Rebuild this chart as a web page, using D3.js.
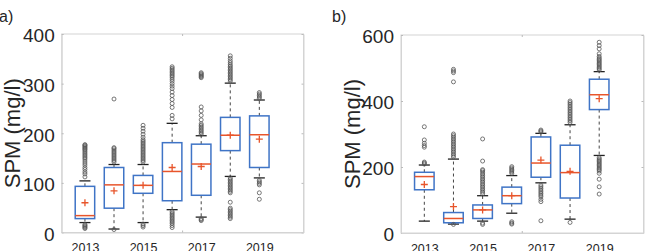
<!DOCTYPE html>
<html>
<head>
<meta charset="utf-8">
<script src="https://cdn.jsdelivr.net/npm/d3@7"></script>
<style>
  body { margin: 0; background: #fff; }
  svg text { font-family: "Liberation Sans", Arial, sans-serif; fill: #262626; }
</style>
</head>
<body>
<div id="chart"></div>
<script>
// years on the x axis (box positions 1..7)
var years = [2013, 2014, 2015, 2016, 2017, 2018, 2019];
var yearLabels = [2013, 2015, 2017, 2019];

// panel a) boxplot stats
var aQ1 = [28, 49, 79, 64, 75, 165, 131];
var aMed = [34, 96, 95, 123, 138, 196, 197];
var aQ3 = [93, 131, 115, 181, 178, 232, 235];
var aLo = [20, 7, 20, 46, 31, 113, 110];
var aHi = [104, 137, 137, 220, 195, 301, 267];
var aMean = [60, 84, 95, 131, 133, 196, 188];
var aOut = [
  [112, 118, 122, 127, 131, 136, 140, 144, 148, 151, 154, 157, 160, 163, 166, 168, 170, 172, 174, 176, 177, 16, 14, 12, 10, 8],
  [142, 145, 148, 151, 154, 157, 160, 163, 166, 169, 171, 269, 6],
  [142, 145, 148, 151, 154, 157, 160, 163, 166, 169, 172, 175, 178, 181, 184, 187, 192, 198, 204, 210, 216, 17, 14, 11],
  [229, 236, 252, 260, 268, 276, 283, 290, 295, 300, 305, 309, 313, 316, 319, 322, 325, 328, 331, 334, 42, 39, 36, 33, 30, 27, 24, 21, 18, 14, 10],
  [198, 201, 204, 207, 210, 213, 216, 219, 227, 236, 245, 253, 312, 314, 316, 318, 320, 322, 28, 26, 24],
  [305, 308, 311, 314, 317, 320, 323, 326, 329, 332, 335, 338, 342, 346, 351, 356, 110, 107, 104, 101, 98, 95, 92, 89, 86, 83, 80, 61, 49, 46, 43, 40, 37, 34, 31, 28],
  [270, 273, 276, 279, 282, 105, 102, 99, 96, 80, 67]
];

// panel b) boxplot stats
var bQ1 = [131, 31, 44, 89, 169, 106, 374];
var bMed = [171, 44, 70, 113, 212, 183, 419];
var bQ3 = [184, 62, 85, 139, 291, 266, 466];
var bLo = [36, 27, 36, 60, 152, 42, 235];
var bHi = [206, 224, 113, 174, 302, 328, 489];
var bMean = [147, 80, 70, 113, 221, 187, 407];
var bOut = [
  [209, 212, 215, 260, 265, 272, 282, 322],
  [230, 235, 240, 245, 250, 255, 260, 265, 270, 275, 280, 285, 290, 295, 300, 458, 486, 491, 496, 26],
  [119, 124, 129, 134, 139, 144, 149, 154, 159, 164, 169, 174, 179, 184, 189, 192, 218, 285, 30, 26],
  [181, 185, 189, 193, 197, 201, 34, 30, 27],
  [306, 309, 312, 145, 140, 135, 130, 125, 120, 115, 110, 102, 95, 37],
  [335, 340, 345, 350, 355, 360, 365, 370, 375, 380, 385, 390, 395, 400, 32],
  [494, 498, 502, 506, 510, 514, 518, 522, 526, 530, 535, 543, 558, 568, 578, 228, 224, 220, 216, 212, 208, 204, 200, 196, 192, 188, 181, 163, 140, 118]
];

var svg = d3.select("#chart").append("svg").attr("width", 645).attr("height", 251);

var blue = "#3f74c6", red = "#e8552b", frame = "#d4d4d4";

function drawPanel(opt) {
  var x = d3.scaleLinear().domain([0.2, 8.52]).range([opt.left, opt.right]);
  var y = d3.scaleLinear().domain([0, opt.ymax]).range([opt.bottom, opt.top]);
  var g = svg.append("g");

  // frame
  g.append("rect")
    .attr("x", opt.left).attr("y", opt.top)
    .attr("width", opt.right - opt.left).attr("height", opt.bottom - opt.top)
    .attr("fill", "none").attr("stroke", frame);

  // left axis with labels, ticks pointing inward
  var yAxis = g.append("g").attr("transform", "translate(" + opt.left + ",0)")
    .call(d3.axisLeft(y).tickValues(opt.yticks).tickSize(-2).tickSizeOuter(0).tickPadding(7));
  yAxis.select(".domain").attr("stroke", frame);
  yAxis.selectAll("line").attr("stroke", "#bbb");
  yAxis.selectAll("text").style("font-size", "19px").attr("fill", "#262626").attr("dy", "0.42em");

  // right side ticks, no labels
  var yRight = g.append("g").attr("transform", "translate(" + opt.right + ",0)")
    .call(d3.axisRight(y).tickValues(opt.yticks).tickSize(-2).tickSizeOuter(0).tickFormat(""));
  yRight.select(".domain").attr("stroke", frame);
  yRight.selectAll("line").attr("stroke", "#bbb");

  // bottom year labels
  var xAxis = g.append("g").attr("transform", "translate(0," + opt.bottom + ")")
    .call(d3.axisBottom(x).tickValues([1, 3, 5, 7]).tickSize(0).tickPadding(11)
      .tickFormat(function(d, i) { return yearLabels[i]; }));
  xAxis.select(".domain").attr("stroke", frame);
  xAxis.selectAll("text").style("font-size", "12.5px").attr("fill", "#262626");

  // small ticks in the middle of top and bottom edges
  var mid = (opt.left + opt.right) / 2;
  g.append("line").attr("x1", mid).attr("x2", mid).attr("y1", opt.top).attr("y2", opt.top + 2).attr("stroke", "#bbb");
  g.append("line").attr("x1", mid).attr("x2", mid).attr("y1", opt.bottom).attr("y2", opt.bottom - 2).attr("stroke", "#bbb");

  var bw = 0.67, cw = 0.38;
  years.forEach(function(yr, i) {
    var p = i + 1;
    // whiskers
    g.append("line").attr("x1", x(p)).attr("x2", x(p))
      .attr("y1", y(opt.q3[i])).attr("y2", y(opt.hi[i]))
      .attr("stroke", "#444").attr("stroke-dasharray", "3,3");
    g.append("line").attr("x1", x(p)).attr("x2", x(p))
      .attr("y1", y(opt.q1[i])).attr("y2", y(opt.lo[i]))
      .attr("stroke", "#444").attr("stroke-dasharray", "3,3");
    // caps
    [opt.hi[i], opt.lo[i]].forEach(function(v) {
      g.append("line").attr("x1", x(p - cw / 2)).attr("x2", x(p + cw / 2))
        .attr("y1", y(v)).attr("y2", y(v))
        .attr("stroke", "#222").attr("stroke-width", 1.3);
    });
    // box
    g.append("rect")
      .attr("x", x(p - bw / 2)).attr("y", y(opt.q3[i]))
      .attr("width", x(p + bw / 2) - x(p - bw / 2))
      .attr("height", y(opt.q1[i]) - y(opt.q3[i]))
      .attr("fill", "none").attr("stroke", blue).attr("stroke-width", 1.5);
    // median
    g.append("line").attr("x1", x(p - bw / 2)).attr("x2", x(p + bw / 2))
      .attr("y1", y(opt.med[i])).attr("y2", y(opt.med[i]))
      .attr("stroke", red).attr("stroke-width", 1.5);
    // outliers
    g.selectAll(null).data(opt.out[i]).enter().append("circle")
      .attr("cx", x(p)).attr("cy", function(d) { return y(d); })
      .attr("r", 2).attr("fill", "none").attr("stroke", "#555").attr("stroke-width", 0.8);
    // mean marker
    var mx = x(p), my = y(opt.mean[i]);
    g.append("path")
      .attr("d", "M" + (mx - 3.5) + "," + my + "H" + (mx + 3.5) + "M" + mx + "," + (my - 3.5) + "V" + (my + 3.5))
      .attr("stroke", red).attr("stroke-width", 1.3);
  });

  // y label
  g.append("text")
    .attr("transform", "translate(" + opt.labelX + "," + ((opt.top + opt.bottom) / 2) + ") rotate(-90)")
    .attr("text-anchor", "middle").attr("dy", "0.35em")
    .style("font-size", "22px")
    .text("SPM (mg/l)");

  // panel letter
  g.append("text").attr("x", opt.letterX).attr("y", 22)
    .style("font-size", "16px").text(opt.letter);
}

drawPanel({
  left: 61.7, right: 303.5, top: 34, bottom: 232.5, ymax: 400,
  yticks: [0, 100, 200, 300, 400],
  q1: aQ1, med: aMed, q3: aQ3, lo: aLo, hi: aHi, mean: aMean, out: aOut,
  labelX: 12, letter: "a)", letterX: -1
});

drawPanel({
  left: 401, right: 643.5, top: 35, bottom: 233, ymax: 600,
  yticks: [0, 200, 400, 600],
  q1: bQ1, med: bMed, q3: bQ3, lo: bLo, hi: bHi, mean: bMean, out: bOut,
  labelX: 352, letter: "b)", letterX: 332
});
</script>
</body>
</html>
